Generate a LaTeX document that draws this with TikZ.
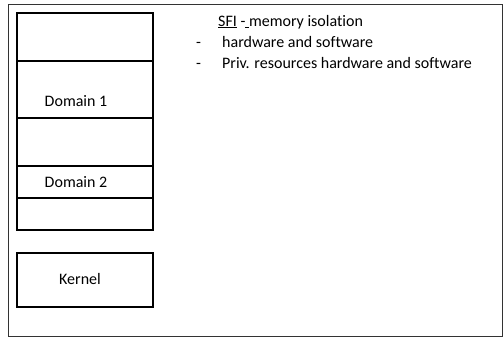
\documentclass[tikz,border=0pt]{standalone}
\usepackage{fontspec}
\setmainfont{Carlito}[Ligatures=NoCommon]
\usetikzlibrary{positioning}
\begin{document}
\begin{tikzpicture}[x=1pt,y=-1pt,font=\fontsize{16}{18}\selectfont,
layer/.style={draw,line width=1.2pt,minimum width=136pt,inner sep=0pt,outer sep=0pt},
note/.style={anchor=base west,inner sep=0pt}]
\useasboundingbox (0,0) rectangle (504,341);
% outer frame
\draw[line width=1.6pt,black!80] (8.5,4.5) rectangle (502.5,336.5);
% memory column
\node[layer,minimum height=48pt,anchor=north west] (slotA) at (17,13) {};
\node[layer,minimum height=57pt,below=0pt of slotA] (domainA) {};
\node[layer,minimum height=48pt,below=0pt of domainA] (slotB) {};
\node[layer,minimum height=32pt,below=0pt of slotB] (domainB) {};
\node[layer,minimum height=32pt,below=0pt of domainB] (slotC) {};
\node[layer,minimum height=54pt,anchor=north west] (kernel) at (17,253) {};
\node (domainAtext) at (76,101) {Domain 1};
\node (domainBtext) at (76,182) {Domain 2};
\node (kerneltext) at (80,279) {Kernel};
% notes
\node[note] (sfi) at (218,26) {\underline{SFI} -\underline{\ }memory isolation};
\node[note] (dashA) at (196,47) {-};
\node[note] (hwsw) at (222,47) {hardware and software};
\node[note] (dashB) at (196,68) {-};
\node[note] (priv) at (222,68) {Priv. resources hardware and software};
\end{tikzpicture}
\end{document}
